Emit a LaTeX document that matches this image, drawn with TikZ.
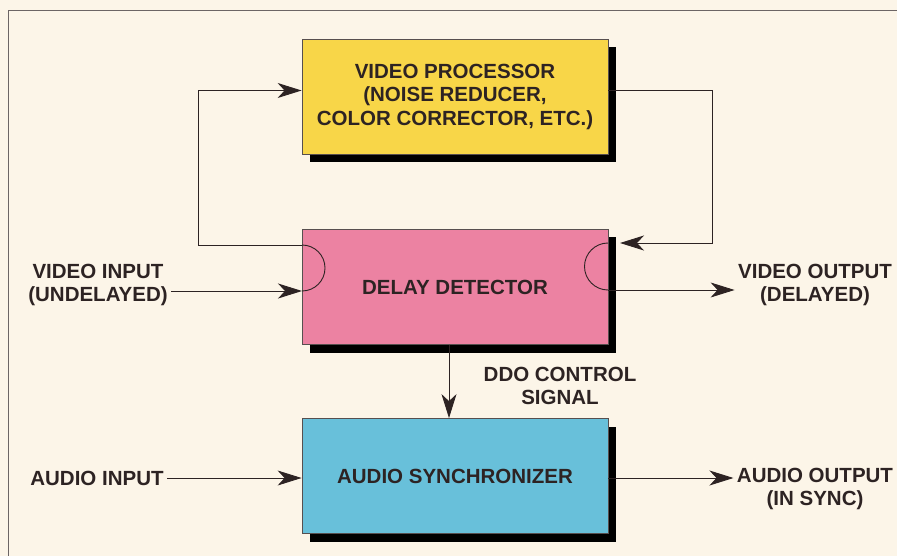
\documentclass[tikz,border=0pt]{standalone}
\usepackage{fontspec}
\setmainfont{Liberation Sans}
\usetikzlibrary{arrows.meta,shadows}
\definecolor{paper}{RGB}{252,245,232}
\definecolor{ink}{RGB}{45,35,35}
\definecolor{procyellow}{RGB}{248,214,72}
\definecolor{delaypink}{RGB}{236,130,162}
\definecolor{syncblue}{RGB}{104,192,218}
\tikzset{
  block/.style={draw=ink!80,line width=0.8pt,minimum width=306pt,minimum height=115pt,
    align=center,font=\fontsize{20.5}{23.5}\selectfont\bfseries,text=ink,
    drop shadow={shadow xshift=8pt,shadow yshift=-8pt,opacity=1,fill=black}},
  tag/.style={align=center,font=\fontsize{20.5}{23.5}\selectfont\bfseries,text=ink},
  wire/.style={draw=ink,line width=0.9pt},
  sig/.style={wire,-{Stealth[length=24pt,width=15pt,inset=7pt]}}
}
\begin{document}
\begin{tikzpicture}[x=1pt,y=-1pt]
  \fill[paper] (0,0) rectangle (897,556);
  \useasboundingbox (0,0) rectangle (897,556);
  \draw[ink!70,line width=0.8pt] (8,556) -- (8,10) -- (897,10);
  % blocks
  \node[block,fill=procyellow] (vproc) at (455,96.5) {VIDEO PROCESSOR\\(NOISE REDUCER,\\COLOR CORRECTOR, ETC.)};
  \node[block,fill=delaypink] (delay) at (455,287) {DELAY DETECTOR};
  \node[block,fill=syncblue] (sync) at (455,476) {AUDIO SYNCHRONIZER};
  % ports on the detector
  \coordinate (ltop) at (302,245);
  \coordinate (lbot) at (302,291);
  \coordinate (rtop) at (608,243);
  \coordinate (rbot) at (608,290);
  \draw[wire] (ltop) arc[start angle=90,end angle=-90,radius=23pt];
  \draw[wire] (rtop) arc[start angle=90,end angle=270,radius=23.5pt];
  % outside labels
  \node[tag] (vin) at (98,285) {VIDEO INPUT\\(UNDELAYED)};
  \node[tag] (vout) at (815,285) {VIDEO OUTPUT\\(DELAYED)};
  \node[tag] (ddo) at (560,386) {DDO CONTROL\\SIGNAL};
  \node[tag] (ain) at (97,478) {AUDIO INPUT};
  \node[tag] (aout) at (815,489) {AUDIO OUTPUT\\(IN SYNC)};
  % loop through the processor
  \draw[sig] (ltop) -- ++(-104,0) |- ([yshift=6pt]vproc.west);
  \draw[sig] ([yshift=6pt]vproc.east) -- ++(104,0) |- ([xshift=12pt]rtop);
  % video path
  \draw[sig] (vin.east |- lbot) -- (lbot);
  \draw[sig] (rbot) -- (vout.west |- rbot);
  % control and audio path
  \draw[sig] ([xshift=-6pt]delay.south) -- ([xshift=-6pt]sync.north);
  \draw[sig] (ain) -- (sync.west |- ain);
  \draw[sig] (sync.east |- ain) -- (aout.west |- ain);
\end{tikzpicture}
\end{document}
